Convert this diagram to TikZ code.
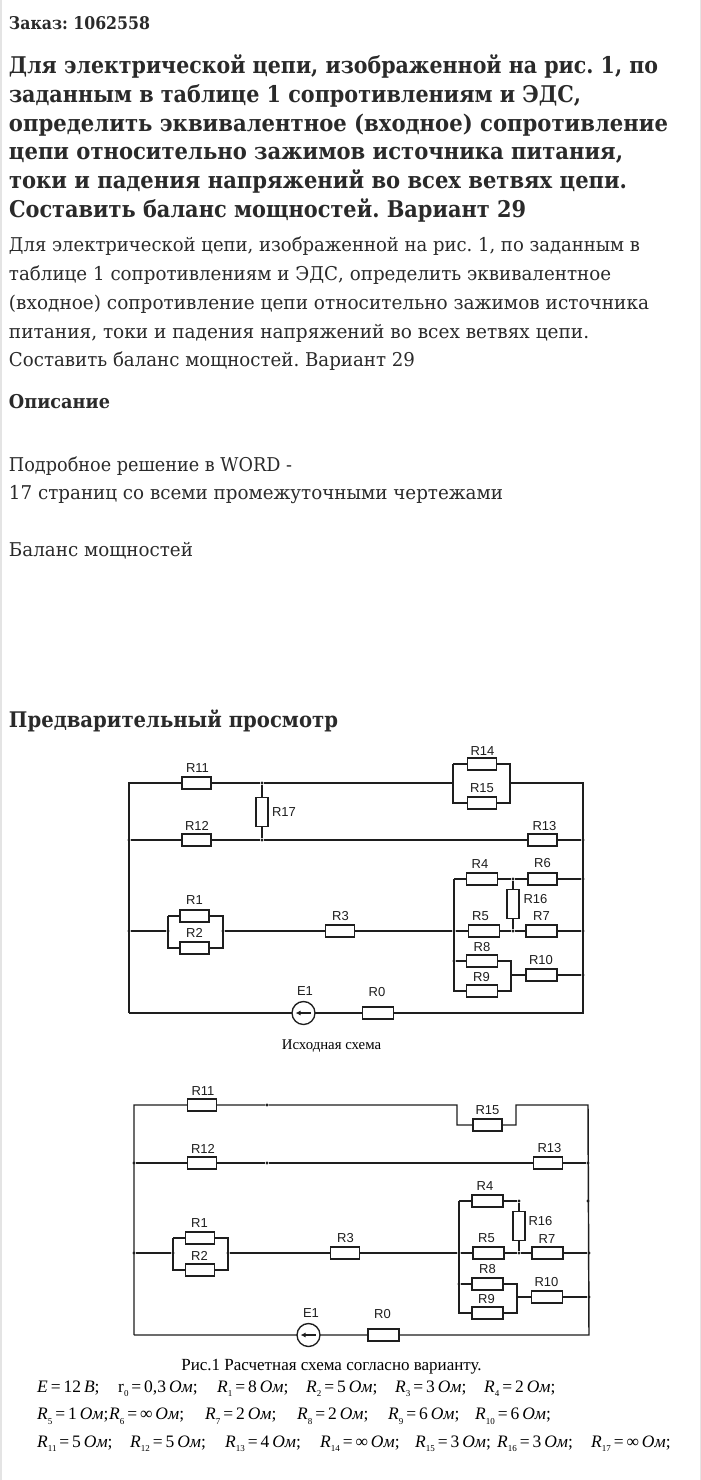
\documentclass[tikz,border=0pt]{standalone}
\usepackage{fontspec}
\usepackage{graphicx}
\usetikzlibrary{arrows.meta,calc}
\setmainfont{Liberation Serif}
\newfontfamily\slab{DejaVu Serif}
\newfontfamily\lsans{Liberation Sans}
\newfontfamily\lserif{Liberation Serif}
\frenchspacing
\definecolor{ink}{HTML}{2A2A2A}
\definecolor{wirec}{HTML}{1E1E1E}
\definecolor{edge}{HTML}{E4E4E4}
\tikzset{
  x=1pt,y=-1pt,
  txt/.style={anchor=base west,inner sep=0pt,outer sep=0pt,text=ink},
  headtxt/.style={txt,font=\slab\bfseries\fontsize{23}{26}\selectfont},
  bodytxt/.style={txt,font=\slab\fontsize{19}{22}\selectfont},
  wire/.style={draw=wirec,line width=1.45pt},
  rh/.style={draw=wirec,line width=1.35pt,fill=white,minimum width=29pt,minimum height=12pt,inner sep=0pt,outer sep=0pt},
  rhw/.style={rh,minimum width=31pt},
  rv/.style={draw=wirec,line width=1.35pt,fill=white,minimum width=12pt,minimum height=29pt,inner sep=0pt,outer sep=0pt},
  lbl/.style={inner sep=0pt,text=wirec,font=\lsans\fontsize{13}{15}\selectfont},
  jdot/.style={circle,fill=wirec,inner sep=0pt,outer sep=0pt,minimum size=3.2pt},
  src/.style={circle,draw=wirec,line width=1.35pt,fill=white,minimum size=23pt,inner sep=0pt,outer sep=0pt},
  fm/.style={anchor=base west,inner sep=0pt,text=black,font=\lserif\fontsize{17.5}{19}\selectfont},
  cap/.style={inner sep=0pt,text=black,font=\lserif\fontsize{#1}{18}\selectfont},
}
\newcommand\fitl[5]{\node[#1] (#2) at (9,#3) {\resizebox{#4pt}{\height}{#5}};}
\newcommand\ssb[1]{\raisebox{-0.28em}{\fontsize{9}{10}\selectfont #1}}
\newcommand\RV[3]{\textit{R}\ssb{#1}\,=\,#2\,\textit{Ом}#3}
\begin{document}
\begin{tikzpicture}
\useasboundingbox (0,0) rectangle (701,1480);
\fill[white] (0,0) rectangle (701,1480);
\fill[edge] (0,0) rectangle (1.5,1480);
\fill[edge] (699.5,0) rectangle (701,1480);

% page text
\fitl{txt,font=\slab\bfseries\fontsize{17.5}{20}\selectfont}{t0}{30}{141}{Заказ: 1062558}
\fitl{headtxt}{h1}{73.5}{649}{Для электрической цепи, изображенной на рис. 1, по}
\fitl{headtxt}{h2}{102}{572}{заданным в таблице 1 сопротивлениям и ЭДС,}
\fitl{headtxt}{h3}{131}{659}{определить эквивалентное (входное) сопротивление}
\fitl{headtxt}{h4}{159.5}{614}{цепи относительно зажимов источника питания,}
\fitl{headtxt}{h5}{188}{618}{токи и падения напряжений во всех ветвях цепи.}
\fitl{headtxt}{h6}{217}{517}{Составить баланс мощностей. Вариант 29}
\fitl{bodytxt}{b1}{251.5}{631}{Для электрической цепи, изображенной на рис. 1, по заданным в}
\fitl{bodytxt}{b2}{280}{602}{таблице 1 сопротивлениям и ЭДС, определить эквивалентное}
\fitl{bodytxt}{b3}{309}{640}{(входное) сопротивление цепи относительно зажимов источника}
\fitl{bodytxt}{b4}{338}{580}{питания, токи и падения напряжений во всех ветвях цепи.}
\fitl{bodytxt}{b5}{366}{406}{Составить баланс мощностей. Вариант 29}
\fitl{txt,font=\slab\bfseries\fontsize{19}{22}\selectfont}{s1}{408}{101}{Описание}
\fitl{bodytxt}{p1}{471}{283}{Подробное решение в WORD -}
\fitl{bodytxt}{p2}{499}{494}{17 страниц со всеми промежуточными чертежами}
\fitl{bodytxt}{p3}{556}{184}{Баланс мощностей}
\fitl{txt,font=\slab\bfseries\fontsize{21.5}{24}\selectfont}{s2}{727.5}{329}{Предварительный просмотр}

% ===== circuit 1 =====
\coordinate (aTL) at (129,783); \coordinate (aTR) at (583,783);
\coordinate (aBL) at (129,1013); \coordinate (aBR) at (583,1013);
\node[jdot] (aL2) at (129,840) {}; \node[jdot] (aR2) at (583,840) {};
\node[jdot] (aL3) at (129,931) {}; \node[jdot] (aR3) at (583,931) {};
\node[jdot] (aR4) at (583,879) {}; \node[jdot] (aR5) at (583,975) {};
\node[jdot] (aJ1) at (262,783) {}; \node[jdot] (aJ2) at (262,840) {};
\coordinate (aP1) at (453,783); \coordinate (aP2) at (510,783);
\coordinate (aP1t) at (453,764); \coordinate (aP2t) at (510,764);
\coordinate (aP1b) at (453,803); \coordinate (aP2b) at (510,803);
\node[jdot] (aA1) at (168,931) {}; \node[jdot] (aA2) at (223,931) {};
\coordinate (aA1t) at (168,916); \coordinate (aA1b) at (168,948);
\coordinate (aA2t) at (223,916); \coordinate (aA2b) at (223,948);
\node[jdot] (aC) at (454,931) {}; \coordinate (aCt) at (454,879);
\node[jdot] (aCm) at (454,961) {}; \coordinate (aCb) at (454,991);
\node[jdot] (aD1) at (513,879) {}; \node[jdot] (aD2) at (513,931) {};
\coordinate (aF1) at (511,961); \coordinate (aF2) at (511,991); \coordinate (aF) at (511,975);

\node[rh] (aR11) at (196.5,783) {}; \node[rv] (aR17) at (262,812) {};
\node[rh] (aR14) at (482,764) {}; \node[rh] (aR15) at (482,803) {};
\node[rh] (aR12) at (196.5,840) {}; \node[rh] (aR13) at (542.5,840) {};
\node[rhw] (aR4b) at (482,879) {}; \node[rh] (aR6b) at (542.5,879) {};
\node[rv] (aR16) at (513,904) {};
\node[rhw] (aR5b) at (484,931) {}; \node[rhw] (aR7) at (541.5,931) {};
\node[rhw] (aR8) at (482,961) {}; \node[rhw] (aR9) at (482,991) {};
\node[rhw] (aR10) at (541.5,975) {};
\node[rh] (aR1) at (194.5,916) {}; \node[rh] (aR2b) at (194.5,948) {};
\node[rh] (aR3b) at (340,931) {};
\node[src] (aE) at (303.5,1013) {}; \node[rhw] (aR0) at (378,1013) {};

\draw[wire,line join=miter] (aBL) -- (aTL) -- (aR11) -- (aJ1) -- (aP1);
\draw[wire] (aP2) -- (aTR) -- (aBR) -- (aR0) -- (aE) -- (aBL);
\draw[wire] (aP1t) -- (aP1b) -- (aR15) -- (aP2b) -- (aP2t) -- (aR14) -- (aP1t);
\draw[wire] (aJ1) -- (aR17) -- (aJ2);
\draw[wire] (aL2) -- (aR12) -- (aJ2) -- (aR13) -- (aR2);
\draw[wire] (aL3) -- (aA1);
\draw[wire] (aA1t) -- (aA1b) -- (aR2b) -- (aA2b) -- (aA2t) -- (aR1) -- (aA1t);
\draw[wire] (aA2) -- (aR3b) -- (aC) -- (aR5b) -- (aD2) -- (aR7) -- (aR3);
\draw[wire] (aCt) -- (aCb) -- (aR9) -- (aF2) -- (aF1) -- (aR8) -- (aCm);
\draw[wire] (aCt) -- (aR4b) -- (aD1) -- (aR6b) -- (aR4);
\draw[wire] (aD1) -- (aR16) -- (aD2);
\draw[wire] (aF) -- (aR10) -- (aR5);
\draw[wire,-{Latex[length=5pt,width=5pt]}] ($(aE.center)+(7,0)$) -- ($(aE.center)+(-8,0)$);

\node[lbl] (aT11) at (197.5,768.5) {R11}; \node[lbl] (aT17) at (284,812.5) {R17};
\node[lbl] (aT14) at (482.5,751) {R14}; \node[lbl] (aT15) at (482,788.5) {R15};
\node[lbl] (aT12) at (197,826) {R12}; \node[lbl] (aT13) at (544.5,826) {R13};
\node[lbl] (aT4) at (480,864) {R4}; \node[lbl] (aT6) at (542.5,863.5) {R6};
\node[lbl] (aT16) at (535.5,899) {R16}; \node[lbl] (aT5) at (480.5,916) {R5};
\node[lbl] (aT7) at (541.5,916.5) {R7}; \node[lbl] (aT8) at (482,947.5) {R8};
\node[lbl] (aT9) at (481.5,977) {R9}; \node[lbl] (aT10) at (541,960) {R10};
\node[lbl] (aT1) at (194.5,900.5) {R1}; \node[lbl] (aT2) at (194.5,933) {R2};
\node[lbl] (aT3) at (340.5,916) {R3}; \node[lbl] (aTE) at (305,991) {E1};
\node[lbl] (aT0) at (377,992.5) {R0};
\node[cap=14.8] (capA) at (331.5,1046) {Исходная схема};

% ===== circuit 2 =====
\coordinate (bTL) at (134,1105); \coordinate (bTR) at (588,1105);
\coordinate (bBL) at (134,1335); \coordinate (bBR) at (589,1335);
\node[jdot] (bL2) at (134,1163) {}; \node[jdot] (bR2) at (588,1163) {};
\node[jdot] (bL3) at (134,1253) {}; \node[jdot] (bR3) at (589,1253) {};
\node[jdot] (bR4) at (588,1201) {}; \node[jdot] (bR5) at (589,1297) {};
\node[jdot] (bJ1) at (267,1105) {}; \node[jdot] (bJ2) at (267,1163) {};
\coordinate (bP1) at (457,1105); \coordinate (bP2) at (516,1105);
\coordinate (bP1b) at (457,1125); \coordinate (bP2b) at (516,1125);
\node[jdot] (bA1) at (173,1253) {}; \node[jdot] (bA2) at (228,1253) {};
\coordinate (bA1t) at (173,1238); \coordinate (bA1b) at (173,1270);
\coordinate (bA2t) at (228,1238); \coordinate (bA2b) at (228,1270);
\node[jdot] (bC) at (459,1253) {}; \coordinate (bCt) at (459,1201);
\node[jdot] (bCm) at (459,1284) {}; \coordinate (bCb) at (459,1313);
\node[jdot] (bD1) at (519,1201) {}; \node[jdot] (bD2) at (519,1253) {};
\coordinate (bF1) at (517,1284); \coordinate (bF2) at (517,1313); \coordinate (bF) at (517,1297);

\node[rh] (bR11) at (202,1105) {}; \node[rh] (bR15) at (487.5,1125) {};
\node[rh] (bR12) at (202,1163) {}; \node[rh] (bR13) at (548,1163) {};
\node[rhw] (bR4b) at (487.5,1201) {}; \node[rv] (bR16) at (519,1226) {};
\node[rhw] (bR5b) at (488.5,1253) {}; \node[rhw] (bR7) at (547.5,1253) {};
\node[rhw] (bR8) at (487.5,1284) {}; \node[rhw] (bR9) at (487.5,1313) {};
\node[rhw] (bR10) at (547,1297) {};
\node[rh] (bR1) at (200,1238) {}; \node[rh] (bR2b) at (200,1270) {};
\node[rh] (bR3b) at (345,1253) {};
\node[src] (bE) at (308.5,1335) {}; \node[rhw] (bR0) at (383.5,1335) {};

\draw[wire] (bBL) -- (bTL) -- (bR11) -- (bJ1) -- (bP1) -- (bP1b) -- (bR15) -- (bP2b) -- (bP2) -- (bTR) -- (bBR) -- (bR0) -- (bE) -- (bBL);
\draw[wire] (bL2) -- (bR12) -- (bJ2) -- (bR13) -- (bR2);
\draw[wire] (bL3) -- (bA1);
\draw[wire] (bA1t) -- (bA1b) -- (bR2b) -- (bA2b) -- (bA2t) -- (bR1) -- (bA1t);
\draw[wire] (bA2) -- (bR3b) -- (bC) -- (bR5b) -- (bD2) -- (bR7) -- (bR3);
\draw[wire] (bCt) -- (bCb) -- (bR9) -- (bF2) -- (bF1) -- (bR8) -- (bCm);
\draw[wire] (bCt) -- (bR4b) -- (bD1) -- (bR16) -- (bD2);
\draw[wire] (bF) -- (bR10) -- (bR5);
\draw[wire,-{Latex[length=5pt,width=5pt]}] ($(bE.center)+(7,0)$) -- ($(bE.center)+(-8,0)$);

\node[lbl] (bT11) at (203,1091) {R11}; \node[lbl] (bT12) at (203,1148.5) {R12};
\node[lbl] (bT15) at (487.5,1110.5) {R15}; \node[lbl] (bT13) at (549.5,1148.5) {R13};
\node[lbl] (bT4) at (485,1186.5) {R4}; \node[lbl] (bT16) at (540.5,1221) {R16};
\node[lbl] (bT5) at (486.5,1238) {R5}; \node[lbl] (bT7) at (547,1239) {R7};
\node[lbl] (bT8) at (487.5,1269.5) {R8}; \node[lbl] (bT9) at (486.5,1299) {R9};
\node[lbl] (bT10) at (546.5,1282.5) {R10}; \node[lbl] (bT1) at (199.5,1223) {R1};
\node[lbl] (bT2) at (199.5,1256) {R2}; \node[lbl] (bT3) at (345.5,1238) {R3};
\node[lbl] (bTE) at (311,1313.5) {E1}; \node[lbl] (bT0) at (382.5,1314.5) {R0};
\node[cap=17] (capB) at (331.5,1366.5) {Рис.1 Расчетная схема согласно варианту.};

% ===== values =====
\node[fm] (v1) at (37,1392) {\textit{E}\,=\,12\,\textit{В};};
\node[fm] (v2) at (118,1392) {r\ssb{0}\,=\,0,3\,\textit{Ом};};
\node[fm] (v3) at (217,1392) {\RV{1}{8}{;}};
\node[fm] (v4) at (306,1392) {\RV{2}{5}{;}};
\node[fm] (v5) at (395,1392) {\RV{3}{3}{;}};
\node[fm] (v6) at (484,1392) {\RV{4}{2}{;}};
\node[fm] (v7) at (37,1419.5) {\RV{5}{1}{;}};
\node[fm] (v8) at (109,1419.5) {\RV{6}{∞}{;}};
\node[fm] (v9) at (205,1419.5) {\RV{7}{2}{;}};
\node[fm] (v10) at (297,1419.5) {\RV{8}{2}{;}};
\node[fm] (v11) at (388,1419.5) {\RV{9}{6}{;}};
\node[fm] (v12) at (475,1419.5) {\RV{10}{6}{;}};
\node[fm] (v13) at (37,1447) {\RV{11}{5}{;}};
\node[fm] (v14) at (130,1447) {\RV{12}{5}{;}};
\node[fm] (v15) at (225,1447) {\RV{13}{4}{;}};
\node[fm] (v16) at (320,1447) {\RV{14}{∞}{;}};
\node[fm] (v17) at (415,1447) {\RV{15}{3}{;}};
\node[fm] (v18) at (497,1447) {\RV{16}{3}{;}};
\node[fm] (v19) at (591,1447) {\RV{17}{∞}{;}};
\end{tikzpicture}
\end{document}
